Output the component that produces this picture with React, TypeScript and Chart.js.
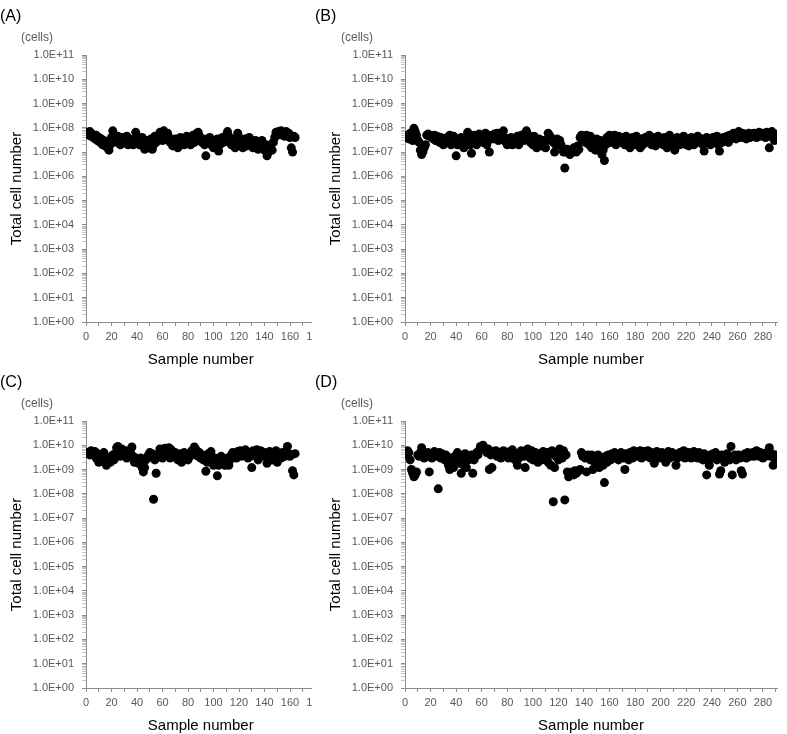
import React, { useEffect, useRef } from 'react';
import { Chart, registerables } from 'chart.js';
Chart.register(...registerables);

// Total cell number per sample, panel (A) — 164 samples
const cellsA: number[] = [
  6.5e7, 5e7, 7e7, 4.5e7, 5.5e7, 4e7, 3.5e7, 5e7, 3e7, 4e7,
  2.5e7, 3.5e7, 2e7, 3e7, 1.8e7, 2.5e7, 1.5e7, 1.2e7, 2e7, 4e7,
  7.5e7, 5e7, 3.5e7, 2.5e7, 4.5e7, 3e7, 2e7, 3.5e7, 4e7, 2.5e7,
  3e7, 4.5e7, 2e7, 3.5e7, 2.5e7, 3e7, 2e7, 3.5e7, 6.5e7, 4e7,
  3e7, 2e7, 2.5e7, 4e7, 1.8e7, 1.3e7, 2.5e7, 3e7, 1.5e7, 2e7,
  3.5e7, 1.3e7, 2e7, 4.5e7, 2.5e7, 3e7, 5e7, 6.5e7, 4e7, 3e7,
  7.5e7, 5e7, 3.5e7, 6e7, 4e7, 2.5e7, 3e7, 1.8e7, 2.5e7, 3.5e7,
  2e7, 1.5e7, 3e7, 4e7, 2.5e7, 3.5e7, 2e7, 3e7, 4.5e7, 2.5e7,
  3e7, 2e7, 3.5e7, 5e7, 2.5e7, 4e7, 6e7, 6.5e7, 4.5e7, 3e7,
  2.5e7, 3.5e7, 2e7, 7e6, 3e7, 2.5e7, 4e7, 3e7, 1.8e7, 1.5e7,
  3e7, 2.5e7, 3.5e7, 1.1e7, 2e7, 3e7, 4e7, 2.5e7, 3.5e7, 5e7,
  7e7, 4.5e7, 3e7, 2e7, 3.5e7, 2.5e7, 1.5e7, 3e7, 6e7, 4e7,
  2e7, 3e7, 1.5e7, 2.5e7, 3.5e7, 1.8e7, 2.5e7, 4e7, 2e7, 3e7,
  1.5e7, 2.5e7, 3e7, 2e7, 1.3e7, 2.5e7, 1.8e7, 3e7, 2e7, 1.2e7,
  2e7, 7e6, 1e7, 1.5e7, 2e7, 1.2e7, 2.5e7, 4e7, 6.5e7, 5e7,
  7e7, 6e7, 7.5e7, 5e7, 6.5e7, 4.5e7, 7e7, 5.5e7, 6e7, 4e7,
  1.5e7, 1e7, 4.5e7, 4e7,
];

// panel (B) — 291 samples
const cellsB: number[] = [
  4e7, 5e7, 3.5e7, 6e7, 4.5e7, 3e7, 9.5e7, 7e7, 5e7, 3e7,
  2.5e7, 1.2e7, 8e6, 1e7, 1.5e7, 2e7, 5e7, 5.5e7, 4.5e7, 5e7,
  4e7, 3.5e7, 5e7, 3e7, 4.5e7, 3.5e7, 2.5e7, 4e7, 3e7, 2e7,
  3.5e7, 2.5e7, 4e7, 3e7, 5e7, 2e7, 3.5e7, 4.5e7, 2.5e7, 7e6,
  2e7, 3e7, 2.5e7, 4e7, 3e7, 1.5e7, 3.5e7, 2.5e7, 6.5e7, 4e7,
  2e7, 9e6, 3e7, 5e7, 3.5e7, 2e7, 4e7, 5.5e7, 3e7, 4.5e7,
  2.5e7, 3.5e7, 6e7, 2e7, 3e7, 1e7, 4e7, 5e7, 3.5e7, 5.5e7,
  4.5e7, 6e7, 3e7, 5e7, 3.5e7, 6.5e7, 7.5e7, 4e7, 2.5e7, 2e7,
  3e7, 2.5e7, 4e7, 2e7, 3.5e7, 2.5e7, 3e7, 4.5e7, 2e7, 3e7,
  5e7, 4e7, 3e7, 6e7, 7.5e7, 5.5e7, 4e7, 2.5e7, 3.5e7, 2e7,
  4.5e7, 3e7, 1.5e7, 2e7, 3.5e7, 2.5e7, 1.8e7, 3e7, 2e7, 1.5e7,
  3e7, 6e7, 5e7, 4e7, 3e7, 2.5e7, 1e7, 2e7, 3.5e7, 2.5e7,
  3e7, 2e7, 1.5e7, 1e7, 2.2e6, 1e7, 1.3e7, 1e7, 8e6, 1.2e7,
  1e7, 1.5e7, 1.2e7, 1e7, 1.8e7, 1.3e7, 4e7, 5e7, 3e7, 4.5e7,
  2.5e7, 5e7, 3.5e7, 2e7, 4.5e7, 1.5e7, 3e7, 2e7, 1.2e7, 3.5e7,
  2.5e7, 1.5e7, 3e7, 8e6, 1.2e7, 4.5e6, 2e7, 4e7, 3.5e7, 5e7,
  2.5e7, 4e7, 3e7, 5e7, 2e7, 3.5e7, 4.5e7, 2.5e7, 3e7, 4e7,
  3e7, 2e7, 4.5e7, 3.5e7, 2.5e7, 1.5e7, 3e7, 4e7, 2e7, 3.5e7,
  4.5e7, 3e7, 2.5e7, 1.5e7, 3.5e7, 2e7, 3e7, 4e7, 2.5e7, 3.5e7,
  5e7, 3e7, 2e7, 4e7, 2.5e7, 1.8e7, 3.5e7, 4.5e7, 3e7, 2.5e7,
  3.5e7, 2e7, 4e7, 3e7, 1.5e7, 2.5e7, 5e7, 3.5e7, 2e7, 3e7,
  1.2e7, 2.5e7, 4e7, 3e7, 2e7, 3.5e7, 2.5e7, 4.5e7, 3e7, 2e7,
  3.5e7, 1.8e7, 2.5e7, 4e7, 3e7, 2e7, 3.5e7, 2.5e7, 4.5e7, 3e7,
  2.5e7, 3.5e7, 2e7, 1.1e7, 3e7, 4e7, 2.5e7, 3.5e7, 2e7, 3e7,
  4e7, 2.5e7, 3.5e7, 4.5e7, 2e7, 1.1e7, 3e7, 2.5e7, 4e7, 3.5e7,
  3e7, 4.5e7, 2.5e7, 5e7, 3.5e7, 4e7, 6e7, 4.5e7, 3.5e7, 5.5e7,
  7e7, 5e7, 4e7, 6e7, 4.5e7, 5e7, 3.5e7, 5.5e7, 6e7, 4e7,
  5e7, 4.5e7, 6e7, 5.5e7, 4e7, 5e7, 6.5e7, 4.5e7, 5.5e7, 6e7,
  5e7, 4e7, 6.5e7, 4.5e7, 1.5e7, 5e7, 7e7, 4e7, 3e7, 5.5e7, 3.5e7,
];

// panel (C) — 164 samples
const cellsC: number[] = [
  5e9, 4.5e9, 4e9, 6e9, 5e9, 4e9, 5.5e9, 3e9, 4.5e9, 2e9,
  3e9, 4e9, 2.5e9, 5e9, 3.5e9, 1.5e9, 2.5e9, 3e9, 2e9, 3.5e9,
  4e9, 2.5e9, 4.5e9, 8e9, 9e9, 6e9, 3.5e9, 7e9, 5e9, 4e9,
  6e9, 3e9, 5e9, 4e9, 6.5e9, 8.5e9, 3.5e9, 2e9, 3e9, 2.5e9,
  1.8e9, 2.5e9, 3e9, 1.2e9, 8e8, 1.2e9, 2.5e9, 3e9, 4e9, 5e9,
  3.5e9, 4.5e9, 6e7, 2.5e9, 7e8, 3.5e9, 4e9, 7e9, 5e9, 3e9,
  6e9, 7.5e9, 4e9, 5.5e9, 8e9, 3e9, 6.5e9, 4.5e9, 3.5e9, 5e9,
  4e9, 2.5e9, 3e9, 4.5e9, 2e9, 3.5e9, 5e9, 3e9, 4e9, 2.5e9,
  3.5e9, 5e9, 6e9, 4e9, 8.5e9, 7e9, 4.5e9, 3.5e9, 5e9, 3e9,
  4e9, 2.5e9, 3.5e9, 8.5e8, 2e9, 4.5e9, 3e9, 5.5e9, 2e9, 1.5e9,
  3e9, 2.5e9, 5.5e8, 1.5e9, 2e9, 3.5e9, 1.8e9, 2.5e9, 1.5e9, 2e9,
  3e9, 1.5e9, 2.5e9, 4e9, 5e9, 3.5e9, 4.5e9, 3e9, 5.5e9, 4e9,
  6e9, 3.5e9, 5e9, 4e9, 6.5e9, 5.5e9, 3e9, 4.5e9, 3.5e9, 1.2e9,
  6e9, 5.5e9, 4e9, 6.5e9, 2.5e9, 5e9, 6e9, 3.5e9, 4.5e9, 5e9,
  4e9, 1.8e9, 3e9, 5.5e9, 4e9, 2.5e9, 3.5e9, 4e9, 6e9, 2e9,
  3.5e9, 4.5e9, 3e9, 5e9, 4e9, 3.5e9, 5e9, 9e9, 4.5e9, 3.5e9,
  4e9, 9e8, 6e8, 4.5e9,
];

// panel (D) — 291 samples
const cellsD: number[] = [
  4e9, 6e9, 5e9, 2.5e9, 1e9, 7e8, 5e8, 6e8, 8e8, 4e9,
  3.5e9, 5e9, 8e9, 4e9, 3e9, 4.5e9, 3.5e9, 5e9, 8e8, 4e9,
  3e9, 4.5e9, 5.5e9, 3.5e9, 4e9, 1.6e8, 5e9, 3e9, 4.5e9, 3.5e9,
  2.5e9, 4e9, 3e9, 1.5e9, 1e9, 3e9, 2e9, 1.2e9, 3.5e9, 2.5e9,
  5e9, 2e9, 1.8e9, 7e8, 3e9, 1.5e9, 4.5e9, 1.2e9, 3.5e9, 2.5e9,
  3e9, 4e9, 7e8, 2.5e9, 3.5e9, 5e9, 4e9, 6e9, 9e9, 7.5e9,
  1e10, 8e9, 6e9, 5e9, 7e9, 1e9, 4e9, 1.2e9, 5.5e9, 4.5e9,
  6e9, 3.5e9, 5e9, 4e9, 3e9, 4.5e9, 6e9, 3.5e9, 5e9, 4e9,
  3e9, 5.5e9, 4e9, 6.5e9, 3.5e9, 2.5e9, 4.5e9, 1.5e9, 3e9, 5e9,
  6e9, 4e9, 3.5e9, 1.2e9, 5e9, 7e9, 4.5e9, 3e9, 6e9, 2.5e9,
  4e9, 5e9, 3.5e9, 2e9, 4.5e9, 3e9, 2.5e9, 5.5e9, 4e9, 3.5e9,
  5e9, 2e9, 4e9, 1.5e9, 6e9, 4.7e7, 1.2e9, 3.5e9, 5e9, 2.5e9,
  7e9, 4.5e9, 3e9, 6e9, 5.6e7, 4e9, 8e8, 5e8, 6e8, 7e8,
  8e8, 6e8, 9e8, 7e8, 8e8, 9e8, 1e9, 5e9, 3.5e9, 4e9,
  3e9, 8e8, 4e9, 3.5e9, 2.5e9, 4e9, 1e9, 3e9, 1.5e9, 3.5e9,
  4e9, 1.2e9, 2.5e9, 3e9, 1.5e9, 2.9e8, 3.5e9, 2e9, 4e9, 3e9,
  2.5e9, 4.5e9, 3.5e9, 5e9, 3e9, 4e9, 2.5e9, 3.5e9, 5e9, 4e9,
  3e9, 1e9, 4.5e9, 3.5e9, 2.5e9, 5e9, 4e9, 3e9, 6e9, 4.5e9,
  3.5e9, 5e9, 4e9, 6e9, 3e9, 4.5e9, 5.5e9, 3.5e9, 4e9, 6e9,
  4.5e9, 3e9, 5e9, 4e9, 1.8e9, 3.5e9, 5.5e9, 4e9, 3e9, 4.5e9,
  5e9, 3.5e9, 4e9, 2e9, 4.5e9, 5.5e9, 3e9, 4e9, 5e9, 3.5e9,
  4e9, 1.5e9, 3e9, 4.5e9, 5e9, 3.5e9, 4e9, 6e9, 3e9, 4.5e9,
  3.5e9, 5e9, 4e9, 3e9, 4.5e9, 5.5e9, 3.5e9, 4e9, 3e9, 5e9,
  4e9, 3.5e9, 2.5e9, 4.5e9, 3e9, 6e8, 3.5e9, 1.5e9, 4e9, 3e9,
  4.5e9, 3.5e9, 5e9, 2.5e9, 3e9, 6.5e8, 9e8, 4e9, 3.5e9, 2e9,
  3e9, 4.5e9, 3.5e9, 2.5e9, 9e9, 6e8, 3e9, 4e9, 2.5e9, 3.5e9,
  4e9, 3e9, 9e8, 6.5e8, 3.5e9, 4.5e9, 3e9, 5e9, 4e9, 3.5e9,
  4.5e9, 5e9, 3.5e9, 4e9, 6e9, 4.5e9, 3.5e9, 5e9, 4e9, 3e9,
  4.5e9, 3.5e9, 5e9, 4e9, 8e9, 3.5e9, 4.5e9, 1.5e9, 3e9, 4e9, 3e9,
];

const panelLetters = ['(A)', '(B)', '(C)', '(D)'];
const unitLabel = '(cells)';
const xTitleText = 'Sample number';
const yTitleText = 'Total cell number';
const xMaxShort = 180;
const xMaxLong = 291;
const yMin = 1;
const yMax = 1e11;

const FONT = '"Liberation Sans", Arial, sans-serif';
const GRAY = '#595959';
const AXIS = '#8c8c8c';
const MINOR = '#c4c4c4';

type PanelProps = {
  values: number[];
  xMax: number;
  left: number;
  top: number;
  canvasWidth: number;
  clipWidth: number;
  padRight: number;
};

const CANVAS_H = 370;

function isDecade(v: number) {
  const e = Math.log10(v);
  return Math.abs(e - Math.round(e)) < 1e-9;
}

function Panel({ values, xMax, left, top, canvasWidth, clipWidth, padRight }: PanelProps) {
  const ref = useRef<HTMLCanvasElement | null>(null);
  useEffect(() => {
    if (!ref.current) return;
    const pts = values.map((v, i) => ({ x: i + 1, y: v }));
    const chart = new Chart(ref.current, {
      type: 'scatter',
      data: {
        datasets: [
          {
            data: pts,
            backgroundColor: '#000',
            borderColor: '#000',
            borderWidth: 0,
            pointRadius: 4.5,
            pointHoverRadius: 4.5,
          },
        ],
      },
      options: {
        animation: false,
        responsive: false,
        events: [],
        layout: { padding: { top: 55, right: padRight, bottom: 0, left: 0 } },
        plugins: { legend: { display: false }, tooltip: { enabled: false } },
        scales: {
          x: {
            type: 'linear',
            min: 0,
            max: xMax,
            afterBuildTicks: (scale: any) => {
              const t: { value: number }[] = [];
              for (let v = 0; v <= xMax; v += 10) t.push({ value: v });
              scale.ticks = t;
            },
            afterFit: (scale: any) => {
              scale.height = 48;
            },
            ticks: {
              autoSkip: false,
              maxRotation: 0,
              minRotation: 0,
              padding: 4,
              color: GRAY,
              font: { family: FONT, size: 11 },
              callback: (v: any) => (Number(v) % 20 === 0 ? String(v) : ''),
            },
            grid: {
              display: true,
              drawOnChartArea: false,
              drawTicks: true,
              tickLength: 4,
              color: AXIS,
            },
            border: { display: true, color: AXIS, width: 1 },
            title: {
              display: true,
              text: xTitleText,
              color: '#000',
              font: { family: FONT, size: 15 },
              padding: { top: 0, bottom: 1 },
            },
          },
          y: {
            type: 'logarithmic',
            min: yMin,
            max: yMax,
            afterBuildTicks: (scale: any) => {
              const t: { value: number }[] = [];
              for (let k = 0; k < 11; k++) {
                for (let m = 1; m < 10; m++) t.push({ value: m * Math.pow(10, k) });
              }
              t.push({ value: yMax });
              scale.ticks = t;
            },
            afterFit: (scale: any) => {
              scale.width = 86;
            },
            ticks: {
              autoSkip: false,
              padding: 8,
              color: GRAY,
              font: { family: FONT, size: 11 },
              callback: (v: any) => {
                const n = Number(v);
                if (isDecade(n)) {
                  return '1.0E+' + String(Math.round(Math.log10(n))).padStart(2, '0');
                }
                return '';
              },
            },
            grid: {
              display: true,
              drawOnChartArea: false,
              drawTicks: true,
              tickLength: 4,
              color: (ctx: any) => (ctx.tick && isDecade(ctx.tick.value) ? AXIS : MINOR),
            },
            border: { display: true, color: AXIS, width: 1 },
            title: {
              display: true,
              text: yTitleText,
              color: '#000',
              font: { family: FONT, size: 15 },
              padding: { top: 8, bottom: 0 },
            },
          },
        },
      },
    } as any);
    return () => chart.destroy();
  }, [values, xMax, padRight]);

  return (
    <div
      style={{
        position: 'absolute',
        left,
        top,
        width: clipWidth,
        height: CANVAS_H,
        overflow: 'hidden',
      }}
    >
      <canvas
        ref={ref}
        width={canvasWidth}
        height={CANVAS_H}
        style={{ display: 'block', width: canvasWidth, height: CANVAS_H }}
      />
    </div>
  );
}

function Label({ text, left, top, size, color }: { text: string; left: number; top: number; size: number; color: string }) {
  return (
    <div
      style={{
        position: 'absolute',
        left,
        top,
        fontFamily: FONT,
        fontSize: size,
        lineHeight: `${Math.round(size * 1.15)}px`,
        color,
        whiteSpace: 'nowrap',
      }}
    >
      {text}
    </div>
  );
}

export default function App() {
  const rowOffset = 366;
  return (
    <div
      style={{
        position: 'absolute',
        left: 0,
        top: 0,
        width: 787,
        height: 734,
        overflow: 'hidden',
        background: '#fff',
      }}
    >
      <Panel values={cellsA} xMax={xMaxShort} left={0} top={0} canvasWidth={330} clipWidth={312} padRight={14.5} />
      <Panel values={cellsB} xMax={xMaxLong} left={319} top={0} canvasWidth={468} clipWidth={468} padRight={10} />
      <Panel values={cellsC} xMax={xMaxShort} left={0} top={rowOffset} canvasWidth={330} clipWidth={312} padRight={14.5} />
      <Panel values={cellsD} xMax={xMaxLong} left={319} top={rowOffset} canvasWidth={468} clipWidth={468} padRight={10} />

      <Label text={panelLetters[0]} left={0} top={7} size={16} color="#000" />
      <Label text={panelLetters[1]} left={315} top={7} size={16} color="#000" />
      <Label text={panelLetters[2]} left={0} top={7 + rowOffset} size={16} color="#000" />
      <Label text={panelLetters[3]} left={315} top={7 + rowOffset} size={16} color="#000" />

      <Label text={unitLabel} left={21} top={30} size={12} color={GRAY} />
      <Label text={unitLabel} left={341} top={30} size={12} color={GRAY} />
      <Label text={unitLabel} left={21} top={30 + rowOffset} size={12} color={GRAY} />
      <Label text={unitLabel} left={341} top={30 + rowOffset} size={12} color={GRAY} />
    </div>
  );
}
